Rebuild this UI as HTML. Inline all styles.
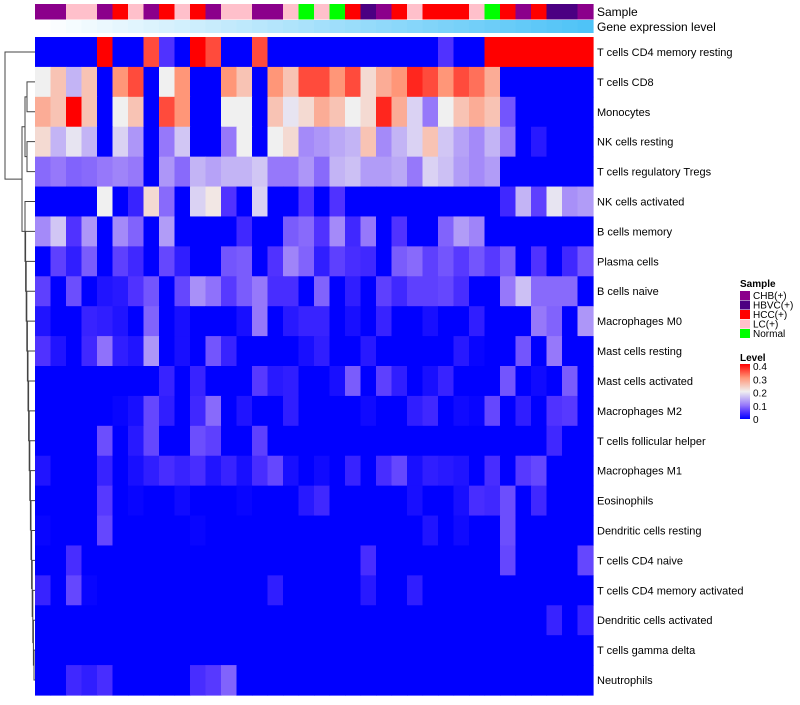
<!DOCTYPE html>
<html><head><meta charset="utf-8"><style>
body{margin:0;background:#fff;font-family:"Liberation Sans",sans-serif}
svg text{font-family:"Liberation Sans",sans-serif}
</style></head><body>
<svg id="chart" width="800" height="700" xmlns="http://www.w3.org/2000/svg">
<g id="dendro" stroke="#444" stroke-width="1" fill="none"></g>
<g id="annot"></g>
<g id="cells"></g>
<g id="labels" font-size="11" fill="#000"></g>
<text x="597" y="16" font-size="12">Sample</text>
<text x="597" y="31" font-size="12">Gene expression level</text>
<g id="legend" font-size="10"></g>
</svg>
<script>
const rowNames=["T cells CD4 memory resting","T cells CD8","Monocytes","NK cells resting","T cells regulatory  Tregs","NK cells activated","B cells memory","Plasma cells","B cells naive","Macrophages M0","Mast cells resting","Mast cells activated","Macrophages M2","T cells follicular helper","Macrophages M1","Eosinophils","Dendritic cells resting","T cells CD4 naive","T cells CD4 memory activated","Dendritic cells activated","T cells gamma delta","Neutrophils"];
const sampleGroups=["CHB(+)","CHB(+)","LC(+)","LC(+)","CHB(+)","HCC(+)","LC(+)","CHB(+)","HCC(+)","LC(+)","HCC(+)","CHB(+)","LC(+)","LC(+)","CHB(+)","CHB(+)","LC(+)","Normal","LC(+)","Normal","HCC(+)","HBVC(+)","CHB(+)","HCC(+)","LC(+)","HCC(+)","HCC(+)","HCC(+)","LC(+)","Normal","HCC(+)","CHB(+)","HCC(+)","HBVC(+)","HBVC(+)","CHB(+)"];
const legendGroups=["CHB(+)","HBVC(+)","HCC(+)","LC(+)","Normal"];
const levelTicks=[0,0.1,0.2,0.3,0.4];
// values in units of 0.05 (level = v*0.05)
const r0=[0,0,0,0,8,0,0,7,1,0,8,7,0,0,7,0,0,0,0,0,0,0,0,0,0,0,1,0,0,8,8,8,8,8,8,8];
const r1=[4,5,3,5,0,6,7,0,4,6,0,0,6,5,0,6,5,7,7,6,7,4.5,5.5,6,7.5,7,6,7,6.5,5.5,0,0,0,0,0,0];
const r2=[5.5,5,8,5,0,4,5,0,7,6,0,0,4,4,0,5,3.8,4.5,5.5,5,4,4.5,7.5,5.5,3.5,2,4,5,5.5,5,1.5,0,0,0,0,0];
const r3=[4.5,3,3.8,3,0,3.5,2.5,0,2,3.3,0,0,2,4,0,4,4.5,2.3,2.5,2.8,3,5,2.3,3,3.5,5,3.3,2.7,2.3,3,2,0,0.5,0,0,0];
const r4=[1.8,2,1.7,1.8,2,2.2,2,0,2.5,1.8,3,2.7,3,3,3.3,2,2,2.5,1.8,3,3.2,2.6,2.6,2.8,2,3.5,3.2,2.6,2.3,2.6,0,0,0,0,0,0];
const r5=[0,0,0,0,4,0,0.7,4.5,1.8,0,3.5,4.2,1,0,3.5,0,0,1,0,1,0,0,0,0,0,0,0,0,0,0,0.8,3,1.2,3.8,2.4,2.6];
const r6=[2.3,3.3,1,2.5,0,2.3,1.7,0,2.6,0,0,0,0,0.8,0,0,1.6,1.8,1,2.3,0.8,2,0,1,0,0,1.7,2.6,2.2,0,0,0,0,0,0,0];
const r7=[0,1.2,0.6,1.6,0,1.2,0.8,0,1.3,0.6,0,0,1.5,1.6,0,1,2.2,1.7,0.6,1.2,0.9,0.8,0,1.6,1.8,1.2,1.5,1.1,1.5,1.1,1.6,0,1,0,0.8,1.5];
const r8=[1.2,0,1.4,0,0.4,0.5,1,1.5,0,1.3,2.4,1.9,1.1,1.6,2,0.9,0.9,0,1.7,0,0.6,0,1.2,0.8,1.2,1.2,1.3,0.9,0,0,2,3.2,1.8,1.8,1.8,0];
const r9=[0.4,0,0,0.7,0.6,0.4,0,1.7,0,0.3,0,0,0,0.3,2,0,0.5,0.7,0.7,0,0.3,0,0.7,0,0,0.3,0,0,0.6,0,0,0,2,1.7,0,2.5];
const r10=[1,0.4,0,0.8,1.9,0.6,0.4,2.5,0,0.3,0,1.5,0.7,0,0,0,0,0.3,0.6,0,0,0.5,0,0,0,0,0,0.5,0.1,0,0,1.5,0,2,0,0];
const r11=[0,0,0,0,0,0,0,0,0.7,0,0.7,0,0,0,1.1,0.5,0.6,0,0,0.3,1.6,0,1.2,0.6,0,0.3,0.7,0,0,0,1.5,0,0.2,0,1.6,0];
const r12=[0,0,0,0,0,0.1,0.3,1.3,0.6,0,0.8,1.8,0,0.4,0,0,0.6,0,0,0,0,0.2,0,0,0.6,0.8,0,0.2,0.1,1.3,0,0.6,0,1,1.1,0];
const r13=[0,0,0,0,1.4,0,0.5,1.3,0,0,1.4,1.2,0,0,1.2,0,0,0,0,0,0,0,0,0,0,0,0,0,0,0,0,0,0,0.8,0,0];
const r14=[0.4,0,0,0,0.7,0,0.3,0.6,0.9,0.7,0.9,0.4,0.7,0.3,0.9,1.3,0.3,0,0.2,0,0.7,0,0.9,1.3,0.3,0.6,0.5,0.4,0,0.9,0,1.1,1.3,0,0,0];
const r15=[0,0,0,0,1.1,0,0.1,0,0,0.2,0,0,0,0.1,0,0,0,0.5,0.8,0,0,0,0,0,0.3,0,0,0.3,0.9,0.8,1.4,0,0.8,0,0,0];
const r16=[0.1,0,0,0,1.3,0,0,0,0,0,0.1,0,0,0,0,0,0,0,0,0,0,0,0,0,0,0.4,0,0.2,0,0,1.4,0,0,0,0,0];
const r17=[0,0,0.9,0,0,0,0,0,0,0,0,0,0,0,0,0,0,0,0,0,0,0.9,0,0,0,0,0,0,0,0,1.3,0,0,0,0,1.3];
const r18=[0.7,0,1.3,0.1,0,0,0,0,0,0,0,0,0,0,0,0.6,0,0,0,0,0,0.5,0,0,0.6,0,0,0,0,0,0,0,0,0,0,0];
const r19=[0,0,0,0,0,0,0,0,0,0,0,0,0,0,0,0,0,0,0,0,0,0,0,0,0,0,0,0,0,0,0,0,0,0.7,0,0.7];
const r20=[0,0,0,0,0,0,0,0,0,0,0,0,0,0,0,0,0,0,0,0,0,0,0,0,0,0,0,0,0,0,0,0,0,0,0,0];
const r21=[0,0,0.8,0.6,0.9,0,0,0,0,0,0.9,1.1,1.7,0,0,0,0,0,0,0,0,0,0,0,0,0,0,0,0,0,0,0,0,0,0,0];
const values=[r0,r1,r2,r3,r4,r5,r6,r7,r8,r9,r10,r11,r12,r13,r14,r15,r16,r17,r18,r19,r20,r21];

const NS="http://www.w3.org/2000/svg";
const X0=35,X1=593,Y0=37,Y1=695;
const nC=sampleGroups.length,nR=rowNames.length;
const cw=(X1-X0)/nC,rh=(Y1-Y0)/nR;
const xs=i=>X0+i*cw, ys=j=>Y0+j*rh;
const groupColor={"CHB(+)":"#8b008b","HBVC(+)":"#4b0082","HCC(+)":"#ff0000","LC(+)":"#ffc0cb","Normal":"#00ff00"};
const stops=[[0,[0,0,255]],[0.05,[80,50,255]],[0.1,[150,120,250]],[0.2,[240,240,240]],[0.3,[255,150,120]],[0.4,[255,0,0]]];
function colorFor(v){v=Math.max(0,Math.min(0.4,v));for(let k=1;k<stops.length;k++){if(v<=stops[k][0]){const a=stops[k-1],b=stops[k];const t=(v-a[0])/(b[0]-a[0]);const c=a[1].map((q,i)=>Math.round(q+(b[1][i]-q)*t));return `rgb(${c})`;}}return "red";}
function mk(tag,attrs,parent){const e=document.createElementNS(NS,tag);for(const k in attrs)e.setAttribute(k,attrs[k]);parent.appendChild(e);return e;}

const cells=document.getElementById('cells');
values.forEach((row,j)=>row.forEach((v,i)=>{
 const r=mk('rect',{x:xs(i),y:ys(j),width:cw+0.6,height:rh+0.6,fill:colorFor(v*0.05)},cells);
 
 
}));
const annot=document.getElementById('annot');
sampleGroups.forEach((g,i)=>{
 const r=mk('rect',{x:xs(i),y:4,width:cw+0.6,height:15.5,fill:groupColor[g]},annot);
 
 
 const t=i/(nC-1);
 const c=[255-(255-79)*t,255-(255-195)*t,255-(255-247)*t].map(Math.round);
 const r2=mk('rect',{x:xs(i),y:20,width:cw+0.6,height:13,fill:`rgb(${c})`},annot);
 
 
});
const labels=document.getElementById('labels');
rowNames.forEach((n,j)=>{
 const t=mk('text',{x:597,y:ys(j)+rh/2+4},labels);t.textContent=n;
 
 
});
// dendrogram
const d=document.getElementById('dendro');
const cy=j=>ys(j)+rh/2;
function link(x,ya,yb,xa,xb){mk('path',{d:`M${xa},${ya}H${x}V${yb}H${xb}`},d);}
link(27,cy(1),cy(2),35,35);
link(27,cy(3),cy(4),35,35);
link(25,(cy(1)+cy(2))/2,(cy(3)+cy(4))/2,27,27);
let prevY=cy(21),prevX=35;
for(let j=20;j>=5;j--){const x=34-(20-j)*0.6;link(x,cy(j),prevY,35,prevX);prevY=(cy(j)+prevY)/2;prevX=x;}
link(22,(cy(1)+cy(2)+cy(3)+cy(4))/4,prevY,25,prevX);
const midA=((cy(1)+cy(2)+cy(3)+cy(4))/4+prevY)/2;
link(5,cy(0),midA,35,22);
// legend
const lg=document.getElementById('legend');
const st=mk('text',{x:740,y:287,'font-weight':'bold'},lg);st.textContent="Sample";
legendGroups.forEach((g,k)=>{
 const r=mk('rect',{x:740,y:291+k*9.5,width:10,height:9,fill:groupColor[g]},lg);
 
 
 const t=mk('text',{x:753,y:299+k*9.5},lg);t.textContent=g;
 
 
});
const lt=mk('text',{x:740,y:361,'font-weight':'bold'},lg);lt.textContent="Level";
const defs=mk('defs',{},lg);
const grad=mk('linearGradient',{id:'lvl',x1:0,y1:1,x2:0,y2:0},defs);
[0,0.05,0.1,0.2,0.3,0.4].forEach(v=>mk('stop',{offset:v/0.4,'stop-color':colorFor(v)},grad));
mk('rect',{x:740,y:364,width:10,height:55,fill:'url(#lvl)'},lg);
levelTicks.forEach(v=>{
 const y=419-v/0.4*53;
 const t=mk('text',{x:753,y:y+4},lg);t.textContent=String(v);
 
 
});
</script>
</body></html>
